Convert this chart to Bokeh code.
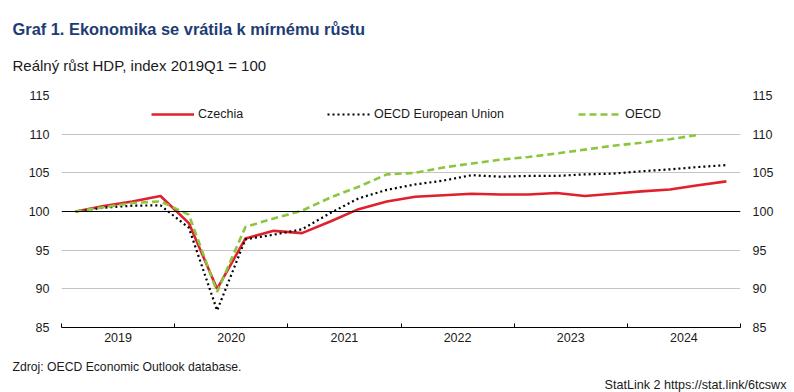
import numpy as np
from bokeh.plotting import figure
from bokeh.layouts import column
from bokeh.models import (Range1d, LinearAxis, FixedTicker, Span, Label, Legend, LegendItem)
from bokeh.embed import file_html
from bokeh.resources import INLINE

# ---------------- data ----------------
quarters = [f"{y}Q{q}" for y in range(2019, 2025) for q in range(1, 5)]
years = ["2019", "2020", "2021", "2022", "2023", "2024"]
czechia = [100.0, 100.7, 101.3, 102.0, 98.5, 90.0, 96.5, 97.5,
           97.2, 98.7, 100.3, 101.3, 101.9, 102.1, 102.3, 102.2,
           102.2, 102.4, 102.0, 102.3, 102.6, 102.85, 103.4, 103.9]
oecd_eu = [100.0, 100.5, 100.75, 100.8, 97.9, 87.2, 96.4, 97.0,
           97.7, 99.8, 101.7, 102.8, 103.5, 104.0, 104.7, 104.5,
           104.6, 104.6, 104.8, 104.9, 105.2, 105.45, 105.75, 106.0]
oecd = [100.0, 100.55, 101.1, 101.3, 99.6, 89.6, 98.0, 99.1,
        100.1, 101.8, 103.2, 104.8, 105.0, 105.7, 106.2, 106.7,
        107.05, 107.5, 108.0, 108.5, 108.9, 109.35, 109.9]
y_ticks = [85, 90, 95, 100, 105, 110, 115]
grid_vals = [90, 95, 105, 110, 115]

title_text = "Graf 1. Ekonomika se vrátila k mírnému růstu"
subtitle_text = "Reálný růst HDP, index 2019Q1 = 100"
source_text = "Zdroj: OECD Economic Outlook database."
statlink_text = "StatLink 2 https://stat.link/6tcswx"

FONT = "'Liberation Sans', Arial, sans-serif"
TXT = "#1a1a1a"
RED = "#e0202c"
GREEN = "#8cc63e"
BLUE = "#1d3c74"

W = 794
HEAD_H, MAIN_H, FOOT_H = 80, 276, 36

x_idx = np.arange(len(quarters))
n = len(quarters)
year_centers = [i * 4 + 1.5 for i in range(len(years))]
year_bounds = [i * 4 - 0.5 for i in range(len(years) + 1)]


def text_panel(height):
    f = figure(width=W, height=height, output_backend="svg", toolbar_location=None,
               x_range=Range1d(0, W), y_range=Range1d(height, 0),
               x_axis_location=None, y_axis_location=None, min_border=0)
    f.outline_line_color = None
    f.grid.visible = False
    if "frame_align" in f.properties():
        f.frame_align = False
    return f


def add_text(f, txt, x, y, size, bold=False, color=TXT, align="left"):
    f.add_layout(Label(x=x, y=y, text=txt, text_font=FONT, text_font_size=size,
                       text_font_style="bold" if bold else "normal",
                       text_color=color, text_align=align, text_baseline="alphabetic"))


# ---------------- header ----------------
head = text_panel(HEAD_H)
add_text(head, title_text, 12, 28, "16.4px", bold=True, color=BLUE)
add_text(head, subtitle_text, 12, 65, "15px")

# ---------------- main chart ----------------
p = figure(width=W, height=MAIN_H, output_backend="svg", toolbar_location=None,
           x_range=Range1d(-0.5, n - 0.5), y_range=Range1d(y_ticks[0], y_ticks[-1]),
           min_border_left=61, min_border_right=54,
           min_border_top=15, min_border_bottom=29,
           y_axis_location=None)
p.outline_line_color = None
if "frame_align" in p.properties():
    p.frame_align = False

p.xgrid.visible = False
p.ygrid.ticker = FixedTicker(ticks=grid_vals)
p.ygrid.grid_line_color = "#c4c4c4"
p.ygrid.grid_line_width = 1.2
p.add_layout(Span(location=100, dimension="width", line_color="black", line_width=1.2))

for side in ("left", "right"):
    ax = LinearAxis(ticker=FixedTicker(ticks=y_ticks))
    ax.axis_line_color = None
    ax.major_tick_line_color = None
    ax.minor_tick_line_color = None
    ax.major_tick_out = 0
    ax.major_tick_in = 0
    ax.major_label_standoff = 12
    ax.major_label_text_font = FONT
    ax.major_label_text_font_size = "12.5px"
    ax.major_label_text_color = TXT
    p.add_layout(ax, side)

xa = p.xaxis[0]
xa.ticker = FixedTicker(ticks=year_centers, minor_ticks=year_bounds)
xa.major_label_overrides = {c: y for c, y in zip(year_centers, years)}
xa.major_tick_line_color = None
xa.major_tick_out = 0
xa.major_tick_in = 0
xa.minor_tick_in = 4
xa.minor_tick_out = 0
xa.minor_tick_line_color = "black"
xa.axis_line_color = "black"
xa.axis_line_width = 1.2
xa.major_label_standoff = 5
xa.major_label_text_font = FONT
xa.major_label_text_font_size = "12.5px"
xa.major_label_text_color = TXT

r_cz = p.line(x_idx, czechia, line_color=RED, line_width=2.6)
r_eu = p.line(x_idx, oecd_eu, line_color="black", line_width=2.2, line_dash="2 3")
r_oe = p.line(x_idx[:len(oecd)], oecd, line_color=GREEN, line_width=2.6, line_dash="7 4")


def add_legend(label, r, frame_x):
    lg = Legend(items=[LegendItem(label=label, renderers=[r])],
                location=(frame_x, 206), orientation="horizontal",
                padding=0, margin=0, spacing=0, border_line_color=None,
                background_fill_alpha=0, glyph_width=43, glyph_height=14,
                label_height=14, label_standoff=4,
                label_text_font=FONT, label_text_font_size="12.5px",
                label_text_color=TXT)
    p.add_layout(lg, "center")


add_legend("Czechia", r_cz, 151 - 61)
add_legend("OECD European Union", r_eu, 327 - 61)
add_legend("OECD", r_oe, 578 - 61)

# ---------------- footer ----------------
foot = text_panel(FOOT_H)
add_text(foot, source_text, 12, 10, "12.2px")
add_text(foot, statlink_text, 786, 28.5, "12.6px", align="right")

layout = column(head, p, foot, spacing=0)
open("out.html", "w").write(file_html(layout, INLINE))
